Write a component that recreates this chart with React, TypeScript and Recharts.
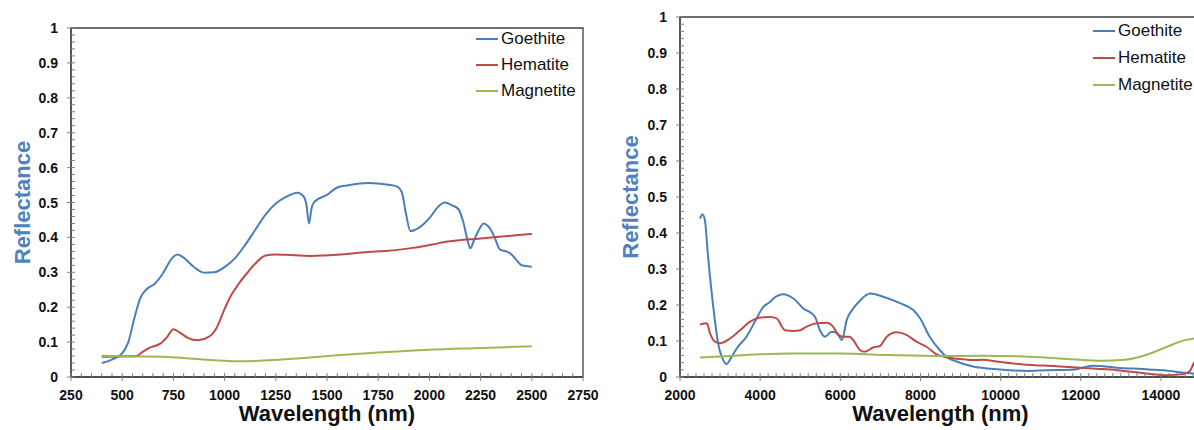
import React from 'react';
import { LineChart, Line, XAxis, YAxis, Legend, ReferenceArea, Label } from 'recharts';

const FONT = "'Liberation Sans', Arial, Helvetica, sans-serif";
const BLUE = '#4a7ebb';
const RED = '#be4b48';
const GREEN = '#98b954';
const TITLE_BLUE = '#4f81bd';

// left panel: VNIR / SWIR (250 - 2750 nm)
const visGoethiteWl = [400, 450, 500, 530, 560, 590, 620, 660, 700, 740, 770, 800, 850, 900, 950, 1000, 1050, 1100, 1150, 1200, 1250, 1300, 1355, 1385, 1400, 1412, 1425, 1440, 1500, 1550, 1600, 1700, 1800, 1840, 1865, 1885, 1907, 1950, 2000, 2040, 2075, 2110, 2140, 2165, 2185, 2200, 2220, 2240, 2265, 2290, 2315, 2345, 2375, 2400, 2425, 2450, 2500];
const visGoethiteR = [0.04, 0.05, 0.068, 0.1, 0.17, 0.228, 0.252, 0.268, 0.298, 0.338, 0.351, 0.342, 0.315, 0.299, 0.3, 0.315, 0.34, 0.378, 0.422, 0.465, 0.497, 0.516, 0.528, 0.518, 0.492, 0.44, 0.485, 0.503, 0.522, 0.543, 0.549, 0.556, 0.551, 0.546, 0.53, 0.47, 0.418, 0.428, 0.455, 0.486, 0.5, 0.492, 0.482, 0.445, 0.395, 0.369, 0.395, 0.42, 0.44, 0.43, 0.405, 0.365, 0.36, 0.352, 0.335, 0.32, 0.316];

const visHematiteWl = [400, 500, 570, 600, 630, 690, 720, 750, 780, 820, 870, 920, 960, 1000, 1030, 1070, 1110, 1150, 1200, 1250, 1300, 1420, 1550, 1700, 1800, 1920, 2000, 2090, 2250, 2400, 2500];
const visHematiteR = [0.058, 0.059, 0.06, 0.072, 0.083, 0.097, 0.115, 0.137, 0.128, 0.112, 0.105, 0.114, 0.14, 0.195, 0.232, 0.268, 0.298, 0.325, 0.348, 0.351, 0.35, 0.347, 0.35, 0.358, 0.362, 0.37, 0.378, 0.388, 0.397, 0.405, 0.41];

const visMagnetiteWl = [400, 550, 700, 850, 950, 1050, 1150, 1250, 1400, 1550, 1750, 2000, 2250, 2500];
const visMagnetiteR = [0.061, 0.059, 0.058, 0.052, 0.048, 0.045, 0.046, 0.049, 0.055, 0.062, 0.07, 0.078, 0.083, 0.088];

// right panel: MIR / TIR (2000 - 15000 nm)
const irGoethiteWl = [2500, 2560, 2620, 2700, 2830, 2950, 3080, 3160, 3290, 3420, 3660, 3870, 4080, 4250, 4330, 4580, 4830, 5080, 5280, 5370, 5490, 5620, 5780, 5910, 6040, 6160, 6320, 6490, 6740, 7070, 7490, 7820, 7990, 8230, 8480, 8650, 8900, 9310, 9980, 10650, 11150, 11800, 12300, 12900, 13700, 14200, 14550, 14800, 15000];
const irGoethiteR = [0.44, 0.452, 0.436, 0.335, 0.195, 0.094, 0.047, 0.036, 0.056, 0.08, 0.112, 0.154, 0.195, 0.209, 0.218, 0.23, 0.218, 0.19, 0.177, 0.167, 0.13, 0.112, 0.126, 0.123, 0.103, 0.158, 0.19, 0.212, 0.232, 0.223, 0.205, 0.186, 0.163, 0.112, 0.075, 0.056, 0.043, 0.029, 0.021, 0.017, 0.019, 0.02, 0.031, 0.026, 0.021, 0.017, 0.012, 0.01, 0.01];

const irHematiteWl = [2500, 2670, 2750, 2870, 3000, 3250, 3500, 3750, 4000, 4250, 4410, 4620, 4830, 5000, 5160, 5410, 5660, 5820, 5950, 6070, 6240, 6320, 6490, 6610, 6820, 6990, 7160, 7400, 7650, 7900, 8150, 8400, 8650, 9070, 9310, 9560, 9900, 10560, 11390, 12390, 12900, 13700, 14150, 14550, 14720, 14820, 15000];
const irHematiteR = [0.146, 0.149, 0.121, 0.098, 0.094, 0.107, 0.13, 0.154, 0.165, 0.167, 0.163, 0.13, 0.128, 0.13, 0.14, 0.149, 0.151, 0.14, 0.117, 0.112, 0.112, 0.103, 0.075, 0.07, 0.082, 0.086, 0.112, 0.124, 0.117, 0.098, 0.084, 0.063, 0.055, 0.049, 0.047, 0.048, 0.043, 0.035, 0.03, 0.023, 0.019, 0.009, 0.005, 0.008, 0.016, 0.038, 0.065];

const irMagnetiteWl = [2500, 3000, 4000, 4800, 6000, 7200, 8500, 9500, 11000, 11800, 12500, 13100, 13700, 14150, 14550, 14820, 15000];
const irMagnetiteR = [0.054, 0.057, 0.063, 0.065, 0.065, 0.061, 0.058, 0.059, 0.055, 0.049, 0.045, 0.048, 0.064, 0.084, 0.101, 0.107, 0.112];

const yTicks = Array.from({ length: 51 }, (_, i) => i / 50);
const visTicks = Array.from({ length: 51 }, (_, i) => 250 + i * 50);
const irTicks = Array.from({ length: 66 }, (_, i) => 2000 + i * 200);

const zip = (wl: number[], r: number[]) => wl.map((w, i) => ({ wl: w, r: r[i] }));

const makeXTick = (major: number) => (props: any) => {
  const { x, y, payload } = props;
  const v = payload.value;
  const isMajor = v % major === 0;
  return (
    <g>
      <line x1={x} x2={x} y1={y - 4} y2={isMajor ? y + 4 : y} stroke="#808080" />
      {isMajor && (
        <text x={x} y={y + 22.5} textAnchor="middle" fontFamily={FONT} fontWeight="bold" fontSize={14} fill="#111">
          {v}
        </text>
      )}
    </g>
  );
};

const YTick = (props: any) => {
  const { x, y, payload } = props;
  const v = payload.value;
  const isMajor = Math.abs(v * 10 - Math.round(v * 10)) < 1e-6;
  const label = v === 0 ? '0' : v === 1 ? '1' : v.toFixed(1);
  return (
    <g>
      <line x1={isMajor ? x - 4 : x} x2={x + 4} y1={y} y2={y} stroke="#808080" />
      {isMajor && (
        <text x={x - 13} y={y + 5} textAnchor="end" fontFamily={FONT} fontWeight="bold" fontSize={14} fill="#111">
          {label}
        </text>
      )}
    </g>
  );
};

const xTitle = (props: any) => {
  const vb = props.viewBox;
  return (
    <text x={vb.x + vb.width / 2} y={vb.y + 44} textAnchor="middle" fontFamily={FONT} fontWeight="bold" fontSize={22} fill="#111">
      Wavelength (nm)
    </text>
  );
};

const makeYTitle = (cx: number) => (props: any) => {
  const vb = props.viewBox;
  const cy = vb.y + vb.height / 2;
  return (
    <text x={cx} y={cy} transform={`rotate(-90 ${cx} ${cy})`} textAnchor="middle" dominantBaseline="central"
      fontFamily={FONT} fontWeight="bold" fontSize={22} fill={TITLE_BLUE}>
      Reflectance
    </text>
  );
};

const makeLegend = (rowH: number) => (props: any) => (
  <div style={{ fontFamily: FONT, fontSize: 17, color: '#111' }}>
    {props.payload.map((e: any) => (
      <div key={e.value} style={{ display: 'flex', alignItems: 'center', height: rowH, whiteSpace: 'nowrap' }}>
        <span style={{ display: 'inline-block', width: 22, height: 2, background: e.color, marginRight: 3 }} />
        <span>{e.value}</span>
      </div>
    ))}
  </div>
);

interface PanelProps {
  domain: [number, number];
  ticks: number[];
  major: number;
  width: number;
  margin: { top: number; right: number; left: number; bottom: number };
  titleX: number;
  legendPos: { left: number; top: number };
  legendRow: number;
  series: { name: string; color: string; data: { wl: number; r: number }[] }[];
}

function Panel({ domain, ticks, major, width, margin, titleX, legendPos, legendRow, series }: PanelProps) {
  return (
    <LineChart width={width} height={430} margin={margin}>
      <XAxis dataKey="wl" type="number" domain={domain} ticks={ticks} interval={0} allowDataOverflow
        axisLine={{ stroke: '#404040', strokeWidth: 1.3 }} tickLine={false} tickSize={0} tickMargin={0}
        tick={makeXTick(major)} height={30}>
        <Label content={xTitle} />
      </XAxis>
      <YAxis type="number" domain={[0, 1]} ticks={yTicks} interval={0} allowDataOverflow
        axisLine={{ stroke: '#404040', strokeWidth: 1.3 }} tickLine={false} tickSize={0} tickMargin={0}
        tick={<YTick />} width={60}>
        <Label content={makeYTitle(titleX)} />
      </YAxis>
      <ReferenceArea x1={domain[0]} x2={domain[1]} y1={0} y2={1} fill="none" stroke="#404040" strokeWidth={1.3} />
      {series.map((s) => (
        <Line key={s.name} name={s.name} data={s.data} dataKey="r" type="monotone" stroke={s.color}
          strokeWidth={2} dot={false} activeDot={false} isAnimationActive={false} />
      ))}
      <Legend layout="vertical" align="center" verticalAlign="middle" content={makeLegend(legendRow)}
        wrapperStyle={{ left: legendPos.left, top: legendPos.top, width: 140 }} />
    </LineChart>
  );
}

export default function App() {
  const visSeries = [
    { name: 'Goethite', color: BLUE, data: zip(visGoethiteWl, visGoethiteR) },
    { name: 'Hematite', color: RED, data: zip(visHematiteWl, visHematiteR) },
    { name: 'Magnetite', color: GREEN, data: zip(visMagnetiteWl, visMagnetiteR) },
  ];
  const irSeries = [
    { name: 'Goethite', color: BLUE, data: zip(irGoethiteWl, irGoethiteR) },
    { name: 'Hematite', color: RED, data: zip(irHematiteWl, irHematiteR) },
    { name: 'Magnetite', color: GREEN, data: zip(irMagnetiteWl, irMagnetiteR) },
  ];
  return (
    <div style={{ position: 'fixed', left: 0, top: 0, width: 1194, height: 430, overflow: 'hidden', background: '#fff' }}>
      <div style={{ position: 'absolute', left: 0, top: 0 }}>
        <Panel domain={[250, 2750]} ticks={visTicks} major={250} width={600}
          margin={{ top: 28, right: 17, left: 11, bottom: 23 }} titleX={22}
          legendPos={{ left: 476, top: 26 }} legendRow={26} series={visSeries} />
      </div>
      <div style={{ position: 'absolute', left: 600, top: 0 }}>
        <Panel domain={[2000, 15000]} ticks={irTicks} major={2000} width={620}
          margin={{ top: 17, right: 19, left: 20, bottom: 23 }} titleX={30}
          legendPos={{ left: 493, top: 18 }} legendRow={26.7} series={irSeries} />
      </div>
    </div>
  );
}
